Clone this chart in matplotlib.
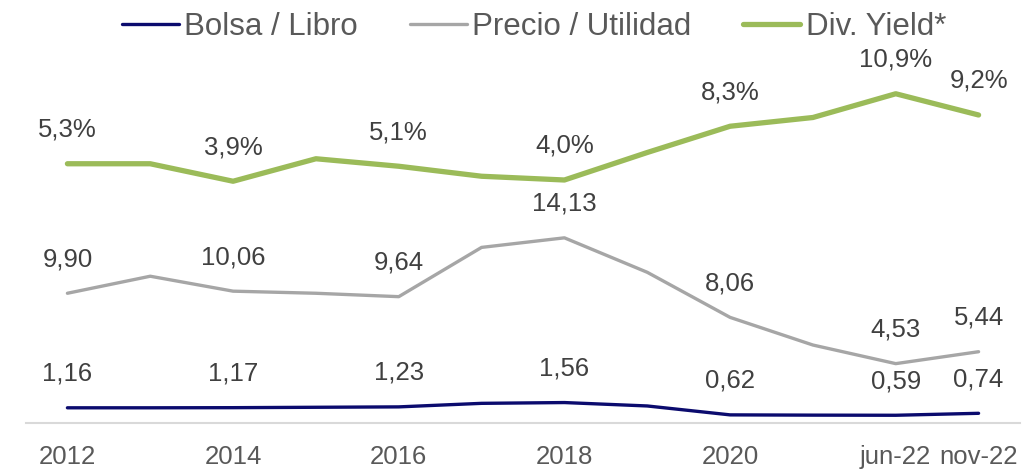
import matplotlib
matplotlib.use('Agg')
import matplotlib.pyplot as plt
import numpy as np

plt.rcParams['font.family'] = ['Liberation Sans', 'DejaVu Sans']

periods = ['2012', '2013', '2014', '2015', '2016', '2017', '2018', '2019', '2020', '2021', 'jun-22', 'nov-22']
tick_labels = ['2012', '', '2014', '', '2016', '', '2018', '', '2020', '', 'jun-22', 'nov-22']

bolsa_libro = [1.16, 1.16, 1.17, 1.20, 1.23, 1.50, 1.56, 1.30, 0.62, 0.60, 0.59, 0.74]
precio_utilidad = [9.90, 11.2, 10.06, 9.9, 9.64, 13.4, 14.13, 11.5, 8.06, 5.95, 4.53, 5.44]
div_yield = [5.3, 5.3, 3.9, 5.7, 5.1, 4.3, 4.0, 6.2, 8.3, 9.0, 10.9, 9.2]

# which points get a data label
labeled = [0, 2, 4, 6, 8, 10, 11]

navy = '#0B0B6E'
gray = '#A6A6A6'
green = '#9BBB59'
label_color = '#404040'
text_color = '#595959'

fig = plt.figure(figsize=(10.24, 4.70), dpi=100)
ax = fig.add_axes([26 / 1024, 1 - 423 / 470, (1020 - 26) / 1024, (423 - 60) / 470])
ax2 = ax.twinx()

x = np.arange(len(periods))

l1, = ax.plot(x, bolsa_libro, color=navy, lw=2.4, solid_capstyle='round', label='Bolsa / Libro')
l2, = ax.plot(x, precio_utilidad, color=gray, lw=2.4, solid_capstyle='round', label='Precio / Utilidad')
l3, = ax2.plot(x, div_yield, color=green, lw=3.8, solid_capstyle='round', label='Div. Yield*')

def fmt(v, decimals, pct=False):
    s = f'{v:.{decimals}f}'.replace('.', ',')
    return s + '%' if pct else s

for i in labeled:
    ax.annotate(fmt(bolsa_libro[i], 2), (x[i], bolsa_libro[i]), xytext=(0, 24.5),
                textcoords='offset points', ha='center', va='center', fontsize=18.5, color=label_color)
    ax.annotate(fmt(precio_utilidad[i], 2), (x[i], precio_utilidad[i]), xytext=(0, 24.5),
                textcoords='offset points', ha='center', va='center', fontsize=18.5, color=label_color)
    ax2.annotate(fmt(div_yield[i], 1, pct=True), (x[i], div_yield[i]), xytext=(0, 24.5),
                 textcoords='offset points', ha='center', va='center', fontsize=18.5, color=label_color)

ax.set_xlim(-0.5, 11.5)
ax.set_ylim(0, 27.7)
ax2.set_ylim(-15.44, 13.6)

ax.set_xticks(x)
ax.set_xticklabels(tick_labels, fontsize=18.5, color=text_color)
ax.tick_params(axis='x', length=0, pad=16)
ax.set_yticks([])
ax2.set_yticks([])

for a in (ax, ax2):
    for s in ('top', 'left', 'right', 'bottom'):
        a.spines[s].set_visible(False)
ax.spines['bottom'].set_visible(True)
ax.spines['bottom'].set_color('#D9D9D9')
ax.spines['bottom'].set_linewidth(1.5)

leg = fig.legend(handles=[l1, l2, l3], loc='center', bbox_to_anchor=(534 / 1024, 1 - 27 / 470),
                 ncol=3, frameon=False, fontsize=22.5, handlelength=1.83, handletextpad=0.18,
                 columnspacing=1.65, borderaxespad=0)
for t in leg.get_texts():
    t.set_color(text_color)

fig.savefig('out.png', dpi=100)
